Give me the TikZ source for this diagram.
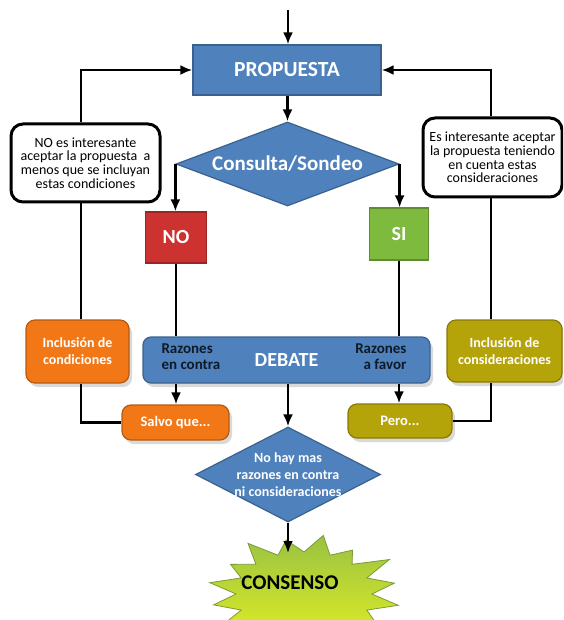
\documentclass[tikz,border=0pt]{standalone}
\usepackage{fontspec}
\setmainfont{Carlito}
\usetikzlibrary{arrows.meta,shapes.geometric,shadows}
\newlength{\du}
\setlength{\du}{1pt}

\begin{document}
\begin{tikzpicture}[x=\du,y=-\du,
  flecha/.style={draw=black,line width=2.8\du,-{Latex[length=12pt,width=10pt]}},
  linea/.style={draw=black,line width=2.8\du},
  caja/.style={rectangle,draw=#1!75!black,fill=#1,line width=1.2\du,text=white,inner sep=0pt,align=center},
  redondo/.style={caja=#1,rounded corners=9\du,drop shadow={opacity=0.3,shadow xshift=3\du,shadow yshift=-4\du}},
  nota/.style={rectangle,rounded corners=12\du,draw=black,fill=white,line width=3\du,align=center,inner sep=0pt,font=\fontsize{14}{13.6}\selectfont},
  decision/.style={diamond,draw=azul!75!black,fill=azul,line width=1.2\du,inner sep=0pt},
  blanco/.style={text=white,align=center,font=\bfseries\fontsize{#1}{#1}\selectfont}]
\definecolor{azul}{rgb}{0.310000, 0.506000, 0.741000}
\definecolor{rojo}{rgb}{0.800000, 0.200000, 0.190000}
\definecolor{verde}{rgb}{0.490000, 0.730000, 0.240000}
\definecolor{naranja}{rgb}{0.950000, 0.470000, 0.090000}
\definecolor{oliva}{rgb}{0.710000, 0.640000, 0.040000}
\definecolor{lima1}{rgb}{0.600000, 0.760000, 0.260000}
\definecolor{lima2}{rgb}{0.910000, 0.950000, 0.130000}
\useasboundingbox (0,0) rectangle (563,620);
\clip (0,0) rectangle (563,620);
% main column
\node[caja=azul,minimum width=188\du,minimum height=50\du,font=\bfseries\fontsize{21.5}{24}\selectfont] (propuesta) at (287,70) {PROPUESTA};
\coordinate (inicio) at (288,10);
\draw[flecha] (inicio) -- (inicio |- propuesta.north);
\node[decision,minimum width=223\du,minimum height=84\du,label={[blanco=21]center:Consulta/Sondeo}] (consulta) at (287.5,164) {};
\draw[flecha] (consulta.south |- propuesta.south) -- (consulta.north);
\node[caja=rojo,minimum width=61\du,minimum height=51\du,font=\bfseries\fontsize{20}{24}\selectfont] (no) at (176,237.5) {NO};
\node[caja=verde,minimum width=59\du,minimum height=52\du,font=\bfseries\fontsize{20}{24}\selectfont] (si) at (399,234) {SI};
\draw[flecha] (consulta.west) -- (consulta.west |- no.north);
\draw[flecha] (consulta.east) -- (consulta.east |- si.north);
\node[redondo=azul,rounded corners=8\du,minimum width=287\du,minimum height=46\du,font=\bfseries\fontsize{20}{24}\selectfont] (debate) at (286.5,360) {DEBATE};
\node[blanco=15,text=azul!20!black,anchor=west,align=left] (contra) at (158,357) {Razones\\[1\du]en contra};
\node[blanco=15,text=azul!20!black,anchor=east,align=right] (favor) at (410,357) {Razones\\[1\du]a favor};
\draw[linea] (no.south) -- (no.south |- debate.north);
\draw[linea] (si.south) -- (si.south |- debate.north);
\node[redondo=naranja,minimum width=107\du,minimum height=35\du,font=\bfseries\fontsize{14.5}{17}\selectfont] (salvo) at (175.5,422.5) {Salvo que...};
\node[redondo=oliva,minimum width=104\du,minimum height=34\du,font=\bfseries\fontsize{14.5}{17}\selectfont] (pero) at (400,421) {Pero...};
\draw[flecha] (no.south |- debate.south) -- (no.south |- salvo.north);
\draw[flecha] (si.south |- debate.south) -- (si.south |- pero.north);
\node[decision,minimum width=185\du,minimum height=95\du,label={[blanco=14,font=\bfseries\fontsize{14}{16.7}\selectfont]center:No hay mas\\razones en contra\\ni consideraciones}] (fin) at (288,474.5) {};
\draw[flecha] (fin.north |- debate.south) -- (fin.north);
% star
\path[draw=lima1!80!black,line width=0.8\du,top color=lima1,bottom color=lima2]
  ([shift={(304,594)}]0:68 and 42)
  \foreach \k/\f in {0/1.00,1/0.90,2/1.06,3/0.94,4/1.02,5/0.90,6/1.08,7/0.96,8/1.00,9/0.92,10/1.05,11/0.95,12/1.03,13/0.91,14/1.07,15/0.96} {
    -- ([shift={(304,594)}]{\k*22.5+11.25}:{96*\f} and {58*\f})
    -- ([shift={(304,594)}]{\k*22.5+22.5}:68 and 42)
  } -- cycle;
\node[font=\bfseries\fontsize{21}{24}\selectfont,inner sep=0pt] (consenso) at (290,583) {CONSENSO};
\coordinate (punta) at (288,553);
\draw[flecha] (fin.south) -- (punta);
% left loop
\node[nota,minimum width=149\du,minimum height=78\du] (noint) at (85.5,163) {NO es interesante\\aceptar la propuesta~ a\\menos que se incluyan\\estas condiciones};
\node[redondo=naranja,minimum width=103\du,minimum height=63\du,font=\bfseries\fontsize{14}{17}\selectfont] (inclcond) at (77.5,351.5) {Inclusión de\\condiciones};
\coordinate (izq) at (81,0);
\draw[linea] (salvo.west) -| (izq |- inclcond.south);
\draw[linea] (izq |- inclcond.north) -- (izq |- noint.south);
\draw[flecha] (izq |- noint.north) |- (propuesta.west);
% right loop
\node[nota,minimum width=139\du,minimum height=79\du] (siint) at (492.5,157.5) {Es interesante aceptar\\la propuesta teniendo\\en cuenta estas\\consideraciones};
\node[redondo=oliva,minimum width=115\du,minimum height=62\du,font=\bfseries\fontsize{14}{17}\selectfont] (inclcons) at (504.5,351) {Inclusión de\\consideraciones};
\coordinate (der) at (491,0);
\draw[linea] (pero.east) -| (der |- inclcons.south);
\draw[linea] (der |- inclcons.north) -- (der |- siint.south);
\draw[flecha] (der |- siint.north) |- (propuesta.east);
\end{tikzpicture}
\end{document}
